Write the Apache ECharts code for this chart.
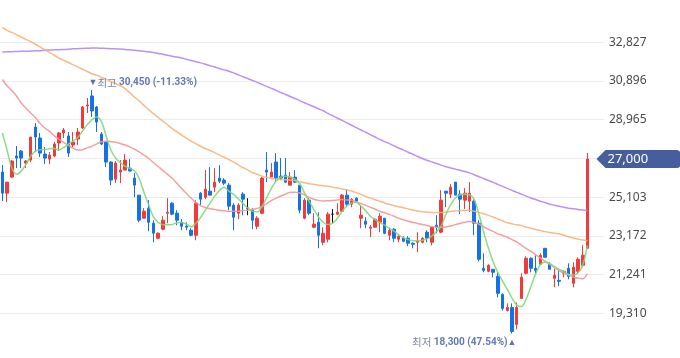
<!DOCTYPE html>
<html><head><meta charset="utf-8">
<script src="https://cdn.jsdelivr.net/npm/echarts@6/dist/echarts.min.js"></script>
<style>html,body{margin:0;padding:0;background:#fff}#c{width:680px;height:358px}</style>
</head><body><div id="c"></div>
<script>
// ---- data ----
const opens  = [26350,25300,26100,27150,27400,26800,26950,28600,28050,27250,27000,27150,27800,28300,28150,27700,28000,28550,29650,30150,29600,28250,27850,26850,26000,26350,26450,26550,26050,25200,24050,24550,23800,23050,23500,24300,24800,24300,23850,23650,23450,23200,25300,25100,25400,25600,26050,25950,25700,24700,24300,25250,24550,24450,23650,24300,26450,26100,26850,26150,26200,25700,26100,25700,24050,24950,23600,23850,22850,23000,24250,24250,24400,25200,24750,25050,24050,23900,23550,23600,23850,24050,23200,23500,23000,23050,23050,22800,22850,22850,23350,22850,23700,23350,25400,25250,25850,25250,24950,24900,24900,23800,21550,21400,21500,21150,20250,19450,19600,18750,20050,21300,22050,21550,21750,22550,21750,21050,20950,21300,21550,20800,21400,21700,22550];
const closes = [25300,25850,26900,27050,27050,26900,28100,28100,27300,27050,27200,27750,28300,28450,27300,27850,28350,29600,29700,29400,28850,27750,26850,25950,26800,26450,26950,26400,25700,23950,24400,23850,23300,23300,23950,24350,24250,23950,23650,23600,23200,24800,25000,25500,25200,25850,25900,25800,24650,24100,24700,25000,24550,23950,24050,26050,26350,26350,26050,26050,25850,26100,25850,24450,24950,24300,23750,23200,23300,24250,24250,24350,25200,24750,25000,24900,24200,23750,23600,24000,24150,23300,23450,23050,23150,22900,22800,22750,22900,23050,23050,23600,23600,24950,25300,25600,25200,25000,25300,25300,23800,22000,21450,21700,21350,20300,19550,19600,18400,19600,21100,22050,21550,21450,22200,22100,21500,21200,20900,21400,21150,21600,22000,22200,27000];
const lows   = [24900,24850,26050,26550,26550,26550,26850,27350,27100,26750,26750,27100,27400,28050,27100,27600,27700,28500,29300,29100,28350,27700,26600,25700,25800,25800,26450,26400,25100,23850,24050,23400,22850,23000,23450,23800,24200,23700,23450,23450,23150,22950,24700,25000,25200,25350,25800,25700,24450,23450,24000,24200,24200,23500,23500,24250,25850,26100,25850,25950,25800,25700,25800,24300,24000,24200,23550,22550,22700,22850,23800,24200,24350,24600,24600,24850,23550,23550,23100,23600,23350,23250,22950,22850,22850,22850,22650,22550,22350,22800,22850,22700,23300,23300,24600,25050,25200,24250,24500,24350,23200,21900,21350,21350,21100,20100,19450,19400,18300,18500,20050,21250,21350,21300,21750,22100,21500,20600,20650,21100,21000,20600,21300,21600,22550];
const highs  = [26700,25850,26950,27650,27450,26950,28100,28800,28300,27600,27350,27850,28350,28550,28350,28350,28550,29650,30050,30450,29650,28350,27850,26900,26900,26950,27250,27000,26300,25200,24550,24950,23950,23350,24150,25050,24850,24450,24000,23850,23550,24950,25350,26450,26600,26550,26700,26050,25800,24800,24800,25350,25050,24550,24150,26100,27350,26800,27300,27050,27050,26350,26450,25700,25050,25050,24300,24350,23600,24350,24500,24800,25250,25500,25050,25100,24700,24100,23700,24050,24300,24050,23550,23550,23200,23150,23150,22850,23350,23100,23450,23600,24200,25450,25400,25750,25850,25450,25550,25850,25000,23950,22300,21750,21500,21350,20300,19800,19800,19850,21300,22150,22100,22200,22300,22550,21850,21550,21450,21450,21800,21850,22100,22700,27300];

const ma5   = [28300,27450,26550,26250,26400,26730,27150,27400,27470,27480,27510,27530,27450,27580,27750,27900,28080,28400,28720,28970,29100,28870,28150,27450,27050,26830,26650,26530,26420,26030,25350,24730,24130,23850,23730,23720,23740,23820,23840,23760,23610,23800,24080,24450,24800,25150,25430,25600,25400,25240,25020,24780,24560,24390,24370,24630,25070,25530,25910,26100,26140,26110,26000,25780,25330,24900,24490,24110,23850,23730,23800,24050,24390,24660,24800,24840,24650,24420,24150,23980,23840,23700,23560,23400,23220,23080,22980,22930,22920,22950,23020,23160,23380,23650,24250,24730,25060,25220,25250,25220,24980,24250,23350,22560,21870,21340,20910,20510,20060,19710,19640,20010,20630,21260,21730,21870,21790,21630,21500,21390,21240,21210,21320,21710,22700];
const ma20  = [30970,30650,30420,30150,29800,29550,29300,29070,28770,28550,28380,28160,27990,27830,27690,27540,27450,27470,27560,27640,27760,27860,27890,27870,27840,27780,27700,27610,27500,27360,27200,27030,26830,26630,26440,26240,26040,25790,25530,25280,25050,24840,24680,24580,24520,24480,24450,24420,24400,24400,24400,24430,24450,24490,24540,24630,24770,24930,25040,25160,25250,25340,25350,25310,25220,25090,25000,24940,24910,24920,24930,24960,24980,24960,24950,24860,24780,24690,24590,24500,24400,24320,24240,24150,24050,23970,23900,23840,23790,23740,23690,23630,23600,23590,23610,23660,23730,23790,23850,23880,23840,23750,23620,23500,23390,23270,23190,23100,22980,22870,22710,22540,22390,22230,22070,21910,21750,21600,21440,21310,21210,21120,21050,21030,21290];
const ma60  = [33570,33420,33320,33210,33090,32970,32860,32730,32590,32450,32320,32180,32040,31930,31820,31700,31590,31480,31370,31260,31190,31080,30980,30870,30770,30660,30520,30310,30100,29890,29680,29470,29270,29080,28890,28710,28520,28360,28200,28040,27900,27770,27640,27530,27430,27320,27200,27090,26970,26850,26710,26570,26460,26330,26240,26150,26090,26040,26000,25980,25970,25960,25920,25870,25820,25770,25740,25700,25670,25640,25600,25560,25510,25460,25410,25320,25230,25140,25050,24970,24900,24810,24740,24670,24620,24570,24510,24460,24410,24370,24350,24330,24330,24330,24360,24390,24420,24430,24440,24450,24400,24340,24270,24190,24110,24010,23920,23820,23770,23720,23680,23600,23550,23490,23440,23380,23340,23300,23270,23200,23120,23060,23010,22960,22930];
const ma120 = [32340,32350,32360,32370,32380,32380,32390,32400,32410,32430,32440,32450,32460,32470,32480,32500,32510,32520,32530,32540,32540,32530,32520,32510,32500,32490,32470,32450,32430,32400,32380,32350,32320,32270,32230,32180,32130,32090,32040,31980,31920,31860,31800,31730,31660,31590,31520,31450,31380,31300,31200,31110,31020,30920,30830,30730,30630,30530,30430,30320,30220,30120,30020,29920,29810,29710,29610,29510,29410,29280,29160,29050,28930,28810,28690,28570,28450,28340,28220,28100,27980,27870,27770,27660,27550,27450,27340,27240,27130,27030,26940,26860,26780,26700,26620,26560,26500,26440,26380,26310,26220,26120,26030,25930,25840,25740,25640,25540,25440,25340,25250,25150,25060,24980,24900,24830,24750,24700,24650,24600,24550,24520,24490,24460,24430];

const yMin = 17379, yMax = 34758, yStep = 1931;   // tick labels 19,310 ... 32,827
const lastPrice = 27000;
const highIdx = 19, highVal = 30450, highPct = '(-11.33%)';
const lowIdx = 108, lowVal = 18300, lowPct = '(47.54%)';

// ---- build ----
const padCats = 3;
const categories = Array.from({length: opens.length + padCats}, (_, i) => 'D' + (i + 1));
const candles = opens.map((o, i) => [o, closes[i], lows[i], highs[i]]);
const fmt = v => v.toLocaleString('en-US');
const UP = '#ef3b3b', DOWN = '#1771e6';
const splitColors = ['rgba(0,0,0,0)'];
for (let i = 1; i < Math.round((yMax - yMin) / yStep); i++) splitColors.push('#ececec');
splitColors.push('rgba(0,0,0,0)');

function maSeries(name, data, color) {
  return {name, type: 'line', data, symbol: 'none', smooth: 0.3, silent: true, z: 3,
    lineStyle: {color, width: 1.5, opacity: 0.9}};
}
const annRich = {
  a: {color: '#5f72ad', fontSize: 9},
  b: {color: '#7d86a6', fontSize: 10.5, fontFamily: 'Noto Sans CJK KR'},
  c: {color: '#6479b5', fontSize: 10, fontWeight: 'bold', fontFamily: 'Roboto, sans-serif'}
};

const chart = echarts.init(document.getElementById('c'));
chart.setOption({
  animation: false,
  grid: {left: -1.4, right: 76, top: 3.6, bottom: 6.1},
  xAxis: {type: 'category', data: categories, boundaryGap: true,
    axisLine: {show: false}, axisTick: {show: false}, axisLabel: {show: false}, splitLine: {show: false}},
  yAxis: {type: 'value', position: 'right', min: yMin, max: yMax, interval: yStep, scale: true,
    axisLine: {show: false}, axisTick: {show: false},
    axisLabel: {margin: 5, color: '#4a4a4a', fontSize: 12, fontFamily: 'Noto Sans, sans-serif',
      formatter: v => (v <= yMin || v >= yMax || Math.abs(v - lastPrice) < yStep / 2) ? '' : fmt(v)},
    splitLine: {show: true, lineStyle: {color: splitColors, width: 1}}},
  series: [
    {type: 'candlestick', data: candles, barWidth: 3, z: 2,
      itemStyle: {color: UP, color0: DOWN, borderColor: UP, borderColor0: DOWN, borderColorDoji: '#111', borderWidth: 1},
      markPoint: {
        silent: true, animation: false,
        data: [
          {coord: [opens.length - 1, lastPrice], symbol: 'path://M0,9 L9,0 L80,0 Q84,0 84,4 L84,14 Q84,18 80,18 L9,18 Z',
            symbolSize: [84, 18], symbolOffset: [51, 0], itemStyle: {color: '#465e9b'},
            label: {show: true, position: 'inside', align: 'left', offset: [-31, 0], formatter: fmt(lastPrice),
              color: '#fff', fontSize: 13, fontFamily: 'Noto Sans, sans-serif'}},
          {coord: [highIdx, highVal], symbol: 'rect', symbolSize: 1, itemStyle: {color: 'rgba(0,0,0,0)'},
            label: {show: true, position: 'right', distance: 0, offset: [-4, -7],
              formatter: '{a|▼}{b|최고 }{c|' + fmt(highVal) + ' ' + highPct + '}', rich: annRich}},
          {coord: [lowIdx, lowVal], symbol: 'rect', symbolSize: 1, itemStyle: {color: 'rgba(0,0,0,0)'},
            label: {show: true, position: 'left', distance: 0, offset: [5, 9],
              formatter: '{b|최저 }{c|' + fmt(lowVal) + ' ' + lowPct + '}{a|▲}', rich: annRich}}
        ]
      }},
    maSeries('MA120', ma120, '#b485f2'),
    maSeries('MA60', ma60, '#f7b37a'),
    maSeries('MA20', ma20, '#f49696'),
    maSeries('MA5', ma5, '#80d878')
  ]
});
</script></body></html>
